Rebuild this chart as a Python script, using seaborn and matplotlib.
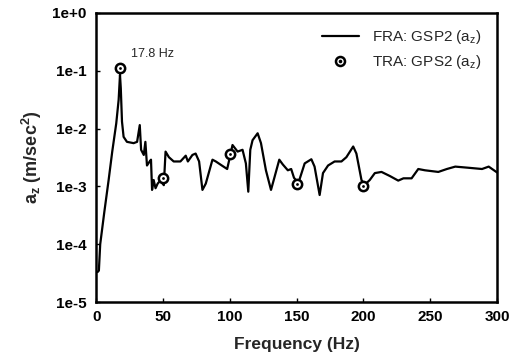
import numpy as np
import pandas as pd
import matplotlib
matplotlib.use("Agg")
import matplotlib.pyplot as plt
from matplotlib.lines import Line2D
import seaborn as sns

# FRA frequency response (GSP2, vertical acceleration)
fra_freq = [1, 2, 3, 6, 9.3, 12, 15, 16.8, 17.8, 18.4, 19.3, 20.5, 23, 28, 30.6, 32.6,
            33.6, 35.6, 36.8, 38, 40, 41, 41.8, 43, 44.4, 46, 48, 50.6, 51.9, 54.4,
            58, 63, 67, 68.6, 72, 74.4, 77, 79.5, 82, 87, 89.5, 94, 98, 100, 102,
            105.8, 109.5, 112, 113.8, 115.3, 117, 120.8, 123.3, 127, 130.8, 133.3,
            137, 139.6, 143.4, 145.9, 148, 150.5, 152, 156, 161, 163.4, 167.2, 169.7,
            173.5, 178.4, 183.5, 187.2, 192.3, 194.7, 198.5, 201, 204.7, 208.5,
            213.5, 219.8, 226, 229.9, 236, 241, 246, 256, 262.4, 268.7, 278.7,
            288.7, 293.7, 300]
fra_az = [3.3e-5, 3.5e-5, 1.0e-4, 3.5e-4, 1.29e-3, 4.0e-3, 1.23e-2, 3.16e-2, 8.5e-2,
          5.0e-2, 1.32e-2, 7.2e-3, 5.9e-3, 5.6e-3, 5.9e-3, 1.15e-2,
          4.3e-3, 3.5e-3, 5.9e-3, 2.3e-3, 2.7e-3, 2.9e-3, 8.7e-4, 1.29e-3, 9.3e-4,
          1.12e-3, 1.26e-3, 1.05e-3, 4.0e-3, 3.2e-3,
          2.7e-3, 2.7e-3, 3.4e-3, 2.7e-3, 3.5e-3, 3.7e-3, 2.7e-3, 8.7e-4, 1.12e-3,
          2.9e-3, 2.7e-3, 2.3e-3, 2.0e-3, 3.2e-3, 5.2e-3,
          4.0e-3, 4.3e-3, 2.5e-3, 8.1e-4, 4.3e-3, 6.3e-3, 8.3e-3, 5.6e-3, 1.9e-3,
          8.7e-4, 1.41e-3,
          2.9e-3, 2.4e-3, 1.9e-3, 2.0e-3, 1.41e-3, 1.20e-3, 1.29e-3, 2.5e-3, 2.95e-3,
          2.2e-3, 7.1e-4, 1.7e-3,
          2.3e-3, 2.7e-3, 2.7e-3, 3.2e-3, 4.9e-3, 3.7e-3, 1.29e-3, 1.07e-3, 1.29e-3,
          1.7e-3,
          1.78e-3, 1.51e-3, 1.26e-3, 1.38e-3, 1.38e-3, 2.0e-3, 1.9e-3, 1.78e-3,
          2.0e-3, 2.2e-3, 2.1e-3,
          2.0e-3, 2.2e-3, 1.74e-3]

# TRA results (GPS2, vertical acceleration)
tra_freq = [17.8, 50, 100, 150, 200]
tra_az = [1.1e-1, 1.38e-3, 3.7e-3, 1.1e-3, 1.0e-3]

peak_label = "17.8 Hz"
ytick_vals = [1e-5, 1e-4, 1e-3, 1e-2, 1e-1, 1e0]
ytick_labels = ["1e-5", "1e-4", "1e-3", "1e-2", "1e-1", "1e+0"]
xtick_vals = [0, 50, 100, 150, 200, 250, 300]

sns.set_style("ticks")
plt.rcParams["font.family"] = ["Liberation Sans", "DejaVu Sans"]
plt.rcParams["mathtext.fontset"] = "custom"
plt.rcParams["mathtext.rm"] = "Liberation Sans"
plt.rcParams["mathtext.bf"] = "Liberation Sans:bold"
plt.rcParams["mathtext.it"] = "Liberation Sans:italic"

fra = pd.DataFrame({"freq": fra_freq, "az": fra_az})
tra = pd.DataFrame({"freq": tra_freq, "az": tra_az})

fig = plt.figure(figsize=(5.2, 3.6), dpi=100)
ax = fig.add_axes([0.185, 0.161, 0.771, 0.803])

sns.lineplot(data=fra, x="freq", y="az", ax=ax, color="black", lw=1.6,
             estimator=None, sort=False, legend=False)
sns.scatterplot(data=tra, x="freq", y="az", ax=ax, marker="o", s=45,
                facecolor="white", edgecolor="black", linewidth=1.8, zorder=5,
                legend=False)
sns.scatterplot(data=tra, x="freq", y="az", ax=ax, marker="o", s=4,
                color="black", linewidth=0, zorder=6, legend=False)

ax.set_yscale("log")
ax.set_xlim(0, 300)
ax.set_ylim(1e-5, 1e0)
ax.set_xticks(xtick_vals)
ax.set_xticklabels([str(v) for v in xtick_vals], fontweight="bold", fontsize=11)
ax.set_yticks(ytick_vals)
ax.set_yticklabels(ytick_labels, fontweight="bold", fontsize=11)
ax.yaxis.set_minor_locator(matplotlib.ticker.NullLocator())
ax.tick_params(direction="in", length=3, width=1, pad=7, colors="black")
ax.tick_params(axis="x", pad=6)

for side in ["left", "right", "top", "bottom"]:
    ax.spines[side].set_visible(True)
    ax.spines[side].set_linewidth(1.8)
    ax.spines[side].set_color("black")

ax.set_xlabel("Frequency (Hz)", fontweight="bold", fontsize=12.5, labelpad=9)
ax.set_ylabel(r"$\mathbf{a_z}$ (m/sec$^\mathbf{2}$)", fontweight="bold",
              fontsize=13, labelpad=6)

ax.annotate(peak_label, xy=(tra_freq[0], tra_az[0]), xytext=(8, 6),
            textcoords="offset points", fontsize=9, va="bottom", ha="left")

line_handle = Line2D([], [], color="black", lw=1.6)
ring_handle = Line2D([], [], ls="none", marker="o", ms=6.5, mfc="white",
                     mec="black", mew=1.8)
dot_handle = Line2D([], [], ls="none", marker="o", ms=1.6, color="black")
ax.legend([line_handle, (ring_handle, dot_handle)],
          [r"FRA: GSP2 (a$_\mathrm{z}$)", r"TRA: GPS2 (a$_\mathrm{z}$)"],
          loc="upper right", frameon=False, fontsize=11, handlelength=2.4,
          handletextpad=0.9, borderaxespad=0.6, labelspacing=0.45)

fig.savefig("out.png", dpi=100)
